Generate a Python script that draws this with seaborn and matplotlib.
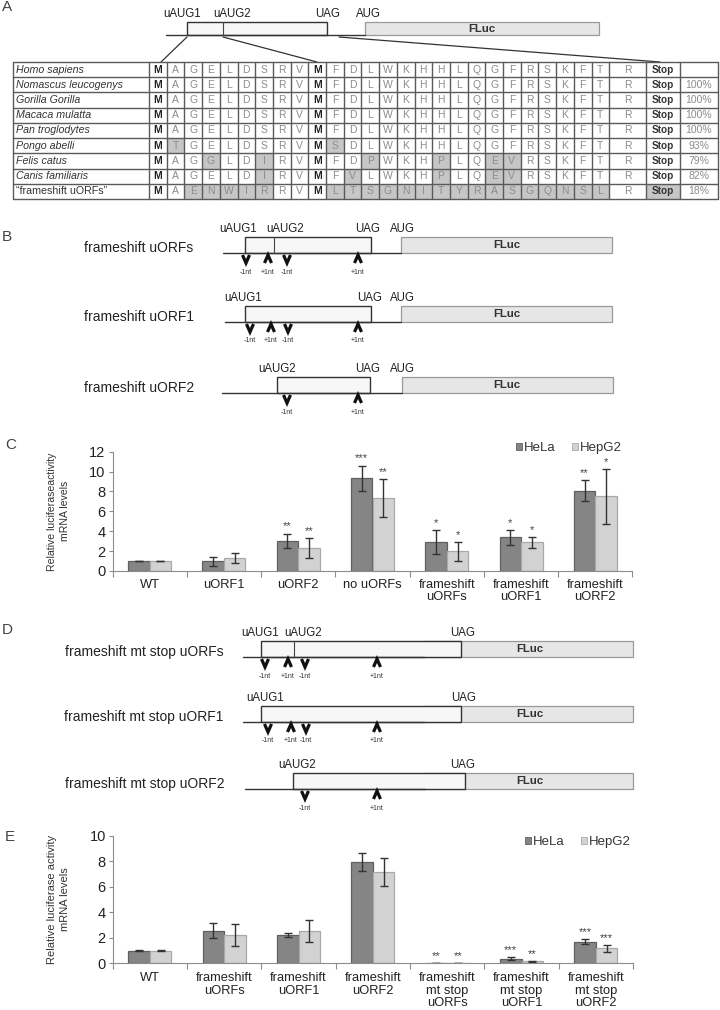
import matplotlib
matplotlib.use('Agg')
import matplotlib.pyplot as plt
import matplotlib.patches as mpatches
import pandas as pd
import seaborn as sns

# ---- panel A: uORF peptide alignment ----
species = ['Homo sapiens', 'Nomascus leucogenys', 'Gorilla Gorilla', 'Macaca mulatta',
           'Pan troglodytes', 'Pongo abelli', 'Felis catus', 'Canis familiaris',
           '\u201cframeshift uORFs\u201d']
sequences = ['MAGELDSRVMFDLWKHHLQGFRSKFTR',
             'MAGELDSRVMFDLWKHHLQGFRSKFTR',
             'MAGELDSRVMFDLWKHHLQGFRSKFTR',
             'MAGELDSRVMFDLWKHHLQGFRSKFTR',
             'MAGELDSRVMFDLWKHHLQGFRSKFTR',
             'MTGELDSRVMSDLWKHHLQGFRSKFTR',
             'MAGGLDIRVMFDPWKHPLQEVRSKFTR',
             'MAGELDIRVMFVLWKHPLQEVRSKFTR',
             'MAENWIRRVMLTSGNITYRASGQNSLR']
identity = ['', '100%', '100%', '100%', '100%', '93%', '79%', '82%', '18%']
stop_changed = [False, False, False, False, False, False, False, False, True]

# ---- panel C ----
c_labels = ['WT', 'uORF1', 'uORF2', 'no uORFs', 'frameshift\nuORFs',
            'frameshift\nuORF1', 'frameshift\nuORF2']
c_hela = [1.0, 0.97, 3.05, 9.32, 2.88, 3.39, 8.08]
c_hela_err = [0.02, 0.47, 0.72, 1.29, 1.2, 0.75, 1.03]
c_hepg2 = [1.0, 1.31, 2.28, 7.37, 1.98, 2.88, 7.53]
c_hepg2_err = [0.02, 0.47, 1.0, 1.9, 0.97, 0.52, 2.77]
c_hela_stars = ['', '', '**', '***', '*', '*', '**']
c_hepg2_stars = ['', '', '**', '**', '*', '*', '*']

# ---- panel E ----
e_labels = ['WT', 'frameshift\nuORFs', 'frameshift\nuORF1', 'frameshift\nuORF2',
            'frameshift\nmt stop\nuORFs', 'frameshift\nmt stop\nuORF1',
            'frameshift\nmt stop\nuORF2']
e_hela = [1.0, 2.56, 2.19, 7.94, 0.03, 0.37, 1.70]
e_hela_err = [0.02, 0.56, 0.15, 0.74, 0.01, 0.12, 0.21]
e_hepg2 = [1.0, 2.22, 2.53, 7.13, 0.02, 0.16, 1.18]
e_hepg2_err = [0.02, 0.85, 0.84, 1.1, 0.01, 0.05, 0.26]
e_hela_stars = ['', '', '', '', '**', '***', '***']
e_hepg2_stars = ['', '', '', '', '**', '**', '***']

cells = ['HeLa', 'HepG2']
bar_colors = ['#858585', '#d2d2d2']
bar_edges = ['#606060', '#a9a9a9']

sns.set_theme(style='white')
plt.rcParams['font.family'] = ['Liberation Sans', 'DejaVu Sans']

fig = plt.figure(figsize=(7.2, 10.1), dpi=100)
ov = fig.add_axes([0, 0, 1, 1])
ov.set_xlim(0, 720)
ov.set_ylim(1010, 0)
ov.axis('off')

# panel letters
for letter, (lx, ly) in zip('ABCDE', [(7, 7), (7, 237), (11, 445), (7, 630), (10, 837)]):
    ov.text(lx, ly, letter, fontsize=11, color='#444', ha='center', va='center')


def chevron(ax, x, y0, up):
    if up:
        xs, ys = [x - 3.5, x, x + 3.5], [y0 + 8, y0, y0 + 8]
    else:
        xs, ys = [x - 3.5, x, x + 3.5], [y0, y0 + 8, y0]
    ax.plot(xs, ys, color='#111', lw=2.3, solid_joinstyle='miter', solid_capstyle='butt')


def draw_construct(ax, c):
    y = c['y']
    h = c.get('h', 16)
    top = y - h
    f0, f1 = c['fluc']
    ax.plot([c['x0'], f0], [y, y], color='#333', lw=1)
    ax.add_patch(mpatches.Rectangle((f0, top), f1 - f0, h, fc='#e6e6e6', ec='#9a9a9a', lw=0.9))
    b0, b1 = c['box']
    ax.add_patch(mpatches.Rectangle((b0, top), b1 - b0, h, fc='#f7f7f7', ec='#333', lw=1))
    for t in c.get('ticks', []):
        ax.plot([t, t], [top, y], color='#444', lw=0.8)
    for txt, x in c['labels']:
        ax.text(x, top - 8, txt, ha='center', va='center', fontsize=8.3, color='#222')
    ax.text(c['fluc_text'], top + h / 2, 'FLuc', ha='center', va='center', fontsize=8.2,
            fontweight='bold', color='#333')
    if 'name' in c:
        ax.text(c['name_x'], y - 5, c['name'], ha='center', va='center', fontsize=10, color='#222')
    for x, up in c.get('arrows', []):
        chevron(ax, x, y + 2, up)
        ax.text(x, y + 19, '+1nt' if up else '-1nt', ha='center', va='center', fontsize=5,
                color='#333')


# panel A schematic
draw_construct(ov, dict(y=35, h=13, x0=166, fluc=(365, 599), box=(187, 327), ticks=[223],
                        labels=[('uAUG1', 182), ('uAUG2', 232), ('UAG', 328), ('AUG', 368)],
                        fluc_text=482))
for (xa, ya), (xb, yb) in [((187, 37), (161, 62)), ((223, 37), (317, 62)), ((339, 37), (660, 62))]:
    ov.plot([xa, xb], [ya, yb], color='#333', lw=0.9)

# panel A table
name_l, name_r = 13, 149
col_w = 17.7
col_edges = [name_l, name_r] + [name_r + col_w * (i + 1) for i in range(26)] + [646, 680, 718]
t_top, row_h = 62, 15.22
ref = sequences[0]
for r, (sp, seq, pct) in enumerate(zip(species, sequences, identity)):
    yc = t_top + row_h * (r + 0.5)
    for i, aa in enumerate(seq):
        x0, x1 = col_edges[i + 1], col_edges[i + 2]
        if aa != ref[i]:
            ov.add_patch(mpatches.Rectangle((x0, yc - row_h / 2), x1 - x0, row_h,
                                            fc='#c6c6c6', ec='none'))
        bold = aa == 'M' and i in (0, 9)
        ov.text((x0 + x1) / 2, yc, aa, ha='center', va='center', fontsize=7.5,
                color='#222' if bold else '#8c8c8c', fontweight='bold' if bold else 'normal')
    sx0, sx1 = col_edges[28], col_edges[29]
    if stop_changed[r]:
        ov.add_patch(mpatches.Rectangle((sx0, yc - row_h / 2), sx1 - sx0, row_h, fc='#c6c6c6', ec='none'))
    ov.text((sx0 + sx1) / 2, yc, 'Stop', ha='center', va='center', fontsize=7.2,
            fontweight='bold', color='#333')
    ov.text((col_edges[29] + col_edges[30]) / 2, yc, pct, ha='center', va='center',
            fontsize=7.5, color='#8c8c8c')
    ov.text(name_l + 3, yc, sp, ha='left', va='center', fontsize=7.7, color='#333',
            style='normal' if sp.startswith('\u201c') else 'italic')
t_bot = t_top + row_h * len(species)
for r in range(len(species) + 1):
    yy = t_top + row_h * r
    ov.plot([name_l, 718], [yy, yy], color='#5a5a5a', lw=1)
for xx in col_edges:
    ov.plot([xx, xx], [t_top, t_bot], color='#5a5a5a', lw=1)

# panel B constructs
b_constructs = [
    dict(y=253, x0=223, fluc=(401, 612), box=(244.5, 370.6), ticks=[274],
         labels=[('uAUG1', 238), ('uAUG2', 285), ('UAG', 368), ('AUG', 402)], fluc_text=507,
         name='frameshift uORFs', name_x=139,
         arrows=[(246, False), (268, True), (287, False), (358, True)]),
    dict(y=322, x0=225, fluc=(401, 612), box=(244.5, 370.6),
         labels=[('uAUG1', 243), ('UAG', 370), ('AUG', 402)], fluc_text=507,
         name='frameshift uORF1', name_x=139,
         arrows=[(250, False), (271, True), (288, False), (358, True)]),
    dict(y=393, x0=222, fluc=(402, 613), box=(277, 370),
         labels=[('uAUG2', 277), ('UAG', 368), ('AUG', 402)], fluc_text=507,
         name='frameshift uORF2', name_x=139,
         arrows=[(287, False), (358, True)]),
]
for c in b_constructs:
    draw_construct(ov, c)

# panel D constructs
d_constructs = [
    dict(y=657, x0=243, fluc=(424, 633), box=(261, 461), ticks=[293.6],
         labels=[('uAUG1', 260), ('uAUG2', 303), ('UAG', 463)], fluc_text=530,
         name='frameshift mt stop uORFs', name_x=144,
         arrows=[(265, False), (288, True), (305, False), (377, True)]),
    dict(y=722, x0=243, fluc=(424, 633), box=(261, 461),
         labels=[('uAUG1', 265), ('UAG', 464)], fluc_text=530,
         name='frameshift mt stop uORF1', name_x=144,
         arrows=[(268, False), (291, True), (306, False), (377, True)]),
    dict(y=789, x0=245, fluc=(425, 633), box=(293, 465),
         labels=[('uAUG2', 297), ('UAG', 463)], fluc_text=530,
         name='frameshift mt stop uORF2', name_x=145,
         arrows=[(305, False), (377, True)]),
]
for c in d_constructs:
    draw_construct(ov, c)


def bar_panel(rect, labels, hela, hela_err, hepg2, hepg2_err, hela_st, hepg2_st,
              ymax, ylabel, ylabel_size, legend_xy, label_pad):
    ax = fig.add_axes(rect)
    ax.set_facecolor('none')
    df = pd.DataFrame({
        'construct': labels * 2,
        'cell': [cells[0]] * len(labels) + [cells[1]] * len(labels),
        'value': hela + hepg2,
    })
    sns.barplot(data=df, x='construct', y='value', hue='cell', order=labels, hue_order=cells,
                palette=bar_colors, width=0.58, saturation=1, errorbar=None, legend=False,
                linewidth=0.9, ax=ax)
    for cont, ec, means, errs, stars in zip(ax.containers, bar_edges, [hela, hepg2],
                                            [hela_err, hepg2_err], [hela_st, hepg2_st]):
        xs = []
        for p in cont:
            p.set_edgecolor(ec)
            xs.append(p.get_x() + p.get_width() / 2)
        ax.errorbar(xs, means, yerr=errs, fmt='none', ecolor='#333', elinewidth=1,
                    capsize=3.2, capthick=1)
        for x, m, e, s in zip(xs, means, errs, stars):
            if s:
                ax.annotate(s, (x, m + e), xytext=(0, 5), textcoords='offset points',
                            ha='center', va='center', fontsize=8, color='#444')
    ax.set_ylim(0, ymax)
    ax.set_xlim(-0.5, len(labels) - 0.5)
    ax.set_yticks(range(0, ymax + 1, 2))
    ax.set_xticks(range(len(labels)))
    ax.set_xticklabels(labels, linespacing=1.05)
    ax.set_xticks([i - 0.5 for i in range(len(labels) + 1)], minor=True)
    ax.tick_params(axis='x', which='major', length=0, pad=label_pad, labelsize=9.3, colors='#222')
    ax.tick_params(axis='x', which='minor', length=4, width=0.8, color='#8c8c8c', direction='out',
                   bottom=True)
    ax.tick_params(axis='y', length=3, width=0.8, color='#8c8c8c', direction='out', left=True,
                   pad=2, labelsize=10.5, labelcolor='#222')
    for side in ['top', 'right']:
        ax.spines[side].set_visible(False)
    for side in ['left', 'bottom']:
        ax.spines[side].set_color('#8c8c8c')
        ax.spines[side].set_linewidth(0.8)
    ax.set_xlabel('')
    ax.set_ylabel(ylabel, fontsize=ylabel_size, color='#333', linespacing=1.35)
    ax.yaxis.set_label_coords(-0.082, 0.5)
    handles = [mpatches.Patch(fc=c, ec=e, lw=0.6) for c, e in zip(bar_colors, bar_edges)]
    ax.legend(handles, cells, loc='center left', bbox_to_anchor=legend_xy,
              bbox_transform=ov.transData, ncol=2, frameon=False, fontsize=9.5,
              handlelength=0.45, handleheight=0.45, handletextpad=0.15, columnspacing=1.3,
              borderpad=0, labelcolor='#333')
    return ax


bar_panel([112.5 / 720, (1010 - 571) / 1010, 520 / 720, 119.3 / 1010], c_labels,
          c_hela, c_hela_err, c_hepg2, c_hepg2_err, c_hela_stars, c_hepg2_stars,
          12, 'Relative luciferaseactivity\nmRNA levels', 7.6, (509, 448), 5.5)
bar_panel([112.7 / 720, (1010 - 963.3) / 1010, 520.3 / 720, 127.6 / 1010], e_labels,
          e_hela, e_hela_err, e_hepg2, e_hepg2_err, e_hela_stars, e_hepg2_stars,
          10, 'Relative luciferase activity\nmRNA levels', 8, (518, 842), 6.5)

fig.savefig('out.png', dpi=100)
